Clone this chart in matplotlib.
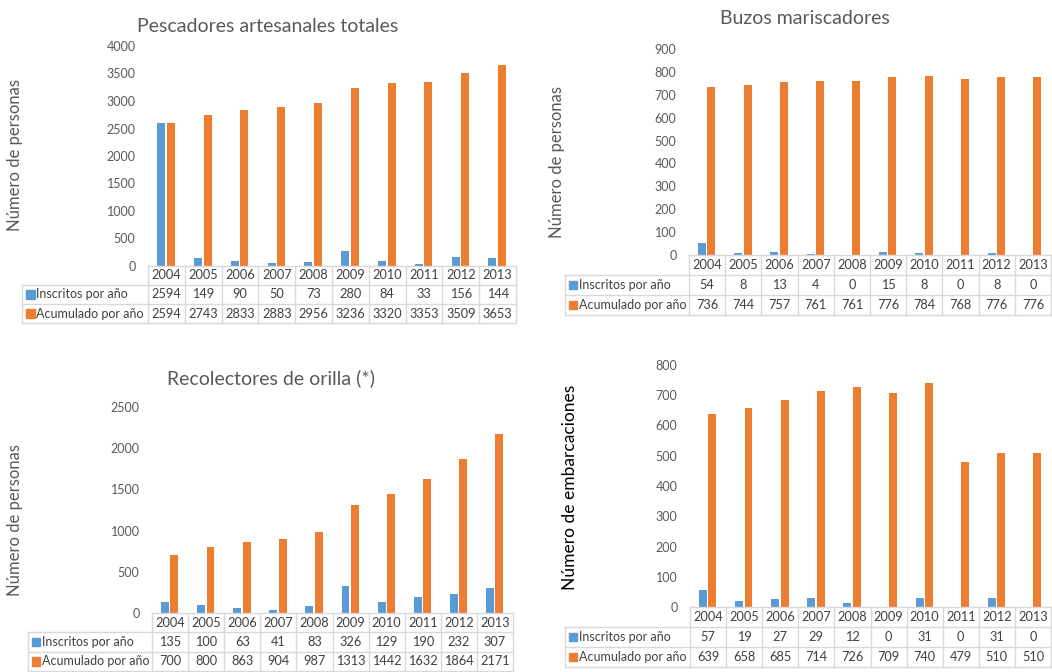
import matplotlib
matplotlib.use("Agg")
import matplotlib.pyplot as plt
from matplotlib.patches import Rectangle

plt.rcParams['font.family'] = ['Lato', 'DejaVu Sans']

years = ['2004', '2005', '2006', '2007', '2008', '2009', '2010', '2011', '2012', '2013']
series_names = ['Inscritos por año', 'Acumulado por año']

pesc_insc = [2594, 149, 90, 50, 73, 280, 84, 33, 156, 144]
pesc_acum = [2594, 2743, 2833, 2883, 2956, 3236, 3320, 3353, 3509, 3653]

buzos_insc = [54, 8, 13, 4, 0, 15, 8, 0, 8, 0]
buzos_acum = [736, 744, 757, 761, 761, 776, 784, 768, 776, 776]

recol_insc = [135, 100, 63, 41, 83, 326, 129, 190, 232, 307]
recol_acum = [700, 800, 863, 904, 987, 1313, 1442, 1632, 1864, 2171]

emb_insc = [57, 19, 27, 29, 12, 0, 31, 0, 31, 0]
emb_acum = [639, 658, 685, 714, 726, 709, 740, 479, 510, 510]

BLUE = '#5B9BD5'
ORANGE = '#ED7D31'
GRID = '#D9D9D9'
TXT = '#595959'
TTXT = '#404040'

W, H = 1052, 672
fig = plt.figure(figsize=(W / 100, H / 100), dpi=100)


def px_axes(x0, y0, x1, y1):
    return fig.add_axes([x0 / W, 1 - y1 / H, (x1 - x0) / W, (y1 - y0) / H])


def panel(bx0, by0, bx1, by1, tx0, ty1, insc, acum, ymax, ystep,
          title, title_xy, ylabel, ylabel_xy, ylabel_color=TXT, ylabel_size=12):
    ax = px_axes(bx0, by0, bx1, by1)
    n = len(years)
    xs = list(range(n))
    bw = 0.22
    ax.bar([x - 0.14 for x in xs], insc, width=bw, color=BLUE)
    ax.bar([x + 0.12 for x in xs], acum, width=bw, color=ORANGE)
    ax.set_xlim(-0.5, n - 0.5)
    ax.set_ylim(0, ymax)
    ax.set_yticks(range(0, ymax + 1, ystep))
    ax.tick_params(axis='y', length=0, labelsize=9, labelcolor=TXT, pad=9)
    ax.set_xticks([])
    for s in ax.spines.values():
        s.set_visible(False)
    ax.patch.set_alpha(0)
    if title:
        fig.text(title_xy[0] / W, 1 - title_xy[1] / H, title, ha='center', va='center',
                 fontsize=14, color=TXT)
    fig.text(ylabel_xy[0] / W, 1 - ylabel_xy[1] / H, ylabel, ha='center', va='center',
             rotation=90, fontsize=ylabel_size, color=ylabel_color)

    # table
    colw = (bx1 - bx0) / n
    lw = (bx0 - tx0) / colw
    tax = px_axes(tx0, by1, bx1, ty1)
    tax.set_xlim(-0.5 - lw, n - 0.5)
    tax.set_ylim(3, 0)
    tax.axis('off')
    kw = dict(color=GRID, lw=1, clip_on=False)
    tax.plot([-0.5, n - 0.5], [0, 0], **kw)
    for r in (1, 2, 3):
        tax.plot([-0.5 - lw, n - 0.5], [r, r], **kw)
    tax.plot([-0.5 - lw, -0.5 - lw], [1, 3], **kw)
    for i in range(n + 1):
        tax.plot([i - 0.5, i - 0.5], [0, 3], **kw)
    for i, yr in enumerate(years):
        tax.text(i, 0.5, yr, ha='center', va='center', fontsize=9.2, color=TTXT)
        tax.text(i, 1.5, str(insc[i]), ha='center', va='center', fontsize=9.2, color=TTXT)
        tax.text(i, 2.5, str(acum[i]), ha='center', va='center', fontsize=9.2, color=TTXT)
    sq = 0.22
    for r, (name, col) in enumerate(zip(series_names, [BLUE, ORANGE])):
        x0 = -0.5 - lw + 0.12
        tax.add_patch(Rectangle((x0, r + 1.5 - 0.22), sq, 0.44, color=col, clip_on=False))
        tax.text(x0 + sq + 0.05, r + 1.5, name, ha='left', va='center', fontsize=9, color=TTXT)
    return ax


panel(148, 46, 516, 266, 22, 323, pesc_insc, pesc_acum, 4000, 500,
      'Pescadores artesanales totales', (268, 26), 'Número de personas', (15, 155))
panel(689, 49, 1051, 255, 565, 315, buzos_insc, buzos_acum, 900, 100,
      'Buzos mariscadores', (805, 18), 'Número de personas', (557, 162))
panel(152, 407, 513, 613, 28, 671, recol_insc, recol_acum, 2500, 500,
      'Recolectores de orilla (*)', (271, 378), 'Número de personas', (15, 520))
panel(690, 365, 1051, 607, 565, 667, emb_insc, emb_acum, 800, 100,
      None, None, 'Número de embarcaciones', (570, 487), ylabel_color='#000000', ylabel_size=12.5)

fig.savefig('out.png', dpi=100)
